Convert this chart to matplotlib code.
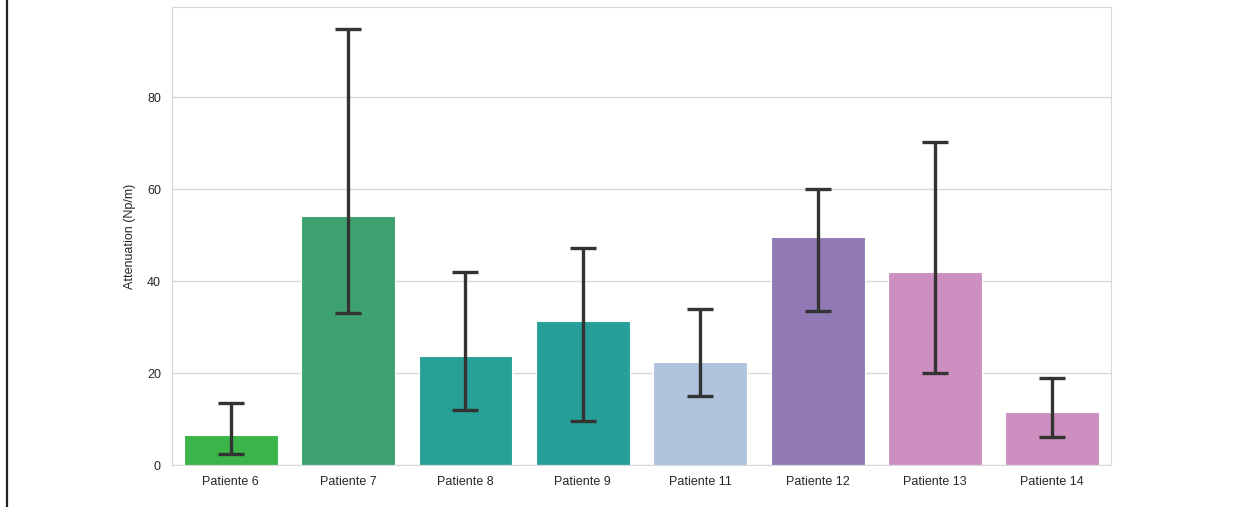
import matplotlib.pyplot as plt
import seaborn as sns
from matplotlib.lines import Line2D

# 数据
patients = ['Patiente 6', 'Patiente 7', 'Patiente 8', 'Patiente 9',
            'Patiente 11', 'Patiente 12', 'Patiente 13', 'Patiente 14']
attenuation = [6.5, 54.2, 23.7, 31.4, 22.4, 49.7, 42.0, 11.6]
err_low = [2.5, 33.0, 12.0, 9.5, 15.0, 33.5, 20.0, 6.2]
err_high = [13.5, 95.0, 42.0, 47.2, 34.0, 60.1, 70.4, 19.0]
colors = ['#3bb54a', '#3da170', '#27a097', '#279f99',
          '#b0c4de', '#9179b5', '#cd8fc0', '#cd8fc0']

sns.set_style('whitegrid')
plt.rcParams['font.family'] = ['Liberation Sans', 'DejaVu Sans']

fig = plt.figure(figsize=(12.43, 5.07), dpi=100)
ax = fig.add_axes([0.1384, 0.0828, 0.7554, 0.9034])

x = list(range(len(patients)))
ax.bar(x, attenuation, width=0.8, color=colors, edgecolor='white', linewidth=0.8, zorder=2)

yerr = [[a - lo for a, lo in zip(attenuation, err_low)],
        [hi - a for a, hi in zip(attenuation, err_high)]]
ax.errorbar(x, attenuation, yerr=yerr, fmt='none', ecolor='#333333',
            elinewidth=2.4, capsize=9.5, capthick=2.4, zorder=3)

ax.set_xlim(-0.5, len(patients) - 0.5)
ax.set_ylim(0, 99.7)
ax.set_yticks([0, 20, 40, 60, 80])
ax.set_xticks(x)
ax.set_xticklabels(patients)
ax.xaxis.grid(False)
ax.yaxis.grid(True, color='#d9d9d9', linewidth=1)
ax.set_axisbelow(True)
for s in ax.spines.values():
    s.set_color('#d9d9d9')
ax.tick_params(axis='y', labelsize=9, colors='#262626', length=0, pad=8)
ax.tick_params(axis='x', labelsize=9, colors='#262626', length=0, pad=8)
ax.set_ylabel('Attenuation (Np/m)', fontsize=9, color='#262626', labelpad=8)

# 左侧边框线
fig.add_artist(Line2D([0.0053, 0.0053], [0, 1], transform=fig.transFigure,
                      color='#222222', linewidth=1.6))

fig.savefig('out.png', dpi=100)
